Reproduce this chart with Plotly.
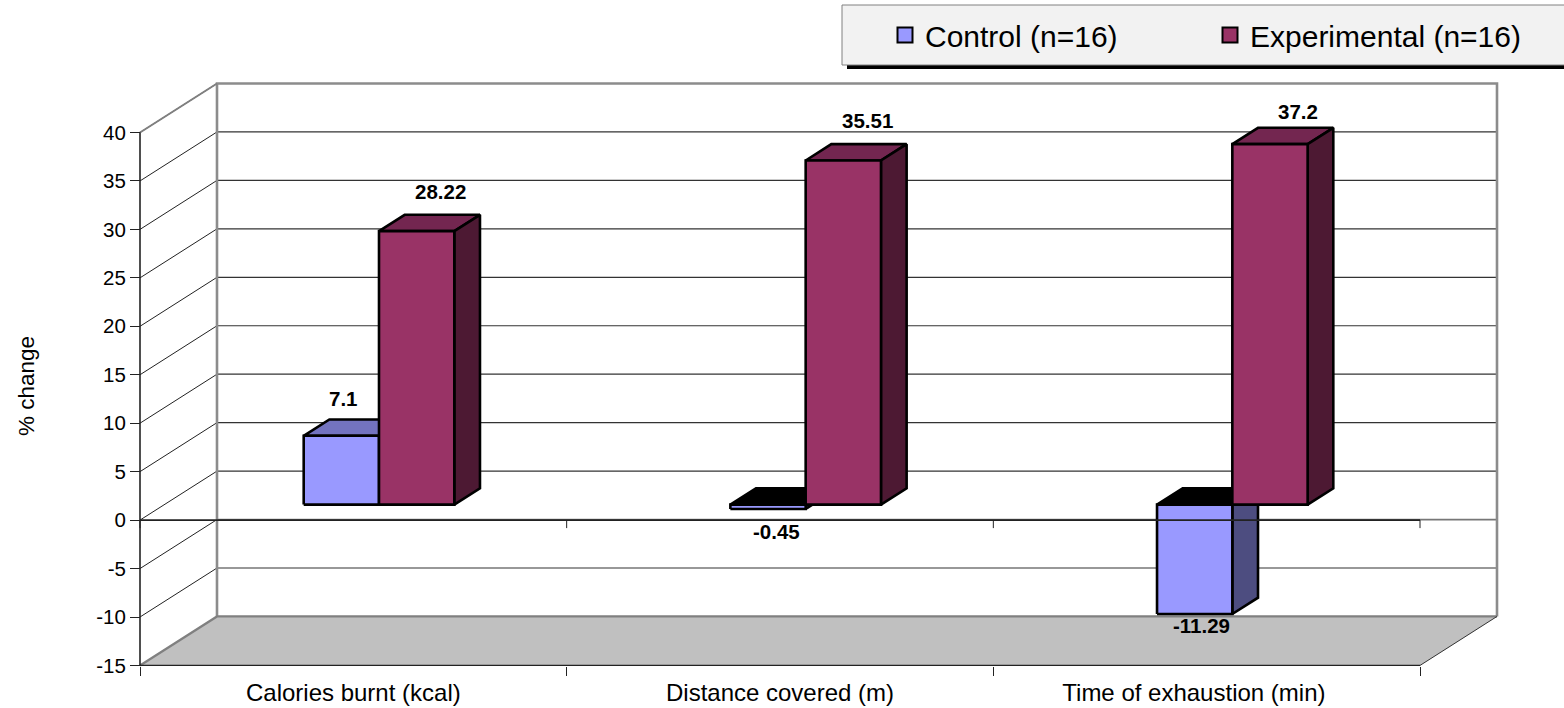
import plotly.graph_objects as go

# Chart data
CATEGORIES = ["Calories burnt (kcal)", "Distance covered (m)", "Time of exhaustion (min)"]
CONTROL = [7.1, -0.45, -11.29]
EXPERIMENTAL = [28.22, 35.51, 37.2]
Y_TICKS = [-15, -10, -5, 0, 5, 10, 15, 20, 25, 30, 35, 40]
SERIES_NAMES = ["Control (n=16)", "Experimental (n=16)"]

# Page and projection geometry
W, H = 1564, 708
CAT_PX = 1280 / 3
VAL_PX = 9.69
X0_PX, Y40_PX = 140, 132.5
DX = 77 / CAT_PX      # full depth of the box, in category units
DY = 49 / VAL_PX      # full depth of the box, in value units
BAR_W = 75.3 / CAT_PX
BAR_LIFT = 15.5 / VAL_PX  # how far the bars' front plane sits above the front axis
Y_MIN, Y_MAX = -15, 40
FONT = "Liberation Sans"

# Face colours: front, top, side
CONTROL_COL = ("#9999ff", "#7373bf", "#4d4d80")
EXPER_COL = ("#993366", "#732650", "#4d1933")

# Pixel nudges of the value labels from each bar's end
CONTROL_NUDGE = [(2, 37), (8, -23), (7, -11)]
EXPER_NUDGE = [(24, 40), (24, 40), (28, 33)]

fig = go.Figure()


def poly(xs, ys, fill, width=2.6, line="#000000"):
    fig.add_trace(go.Scatter(
        x=xs + xs[:1], y=ys + ys[:1], mode="lines", fill="toself", fillcolor=fill,
        line=dict(color=line, width=width), hoverinfo="skip", showlegend=False))


def path(xs, ys, color, width):
    fig.add_trace(go.Scatter(
        x=xs, y=ys, mode="lines", line=dict(color=color, width=width),
        hoverinfo="skip", showlegend=False))


# Floor
poly([0, 3, 3 + DX, DX], [Y_MIN, Y_MIN, Y_MIN + DY, Y_MIN + DY], "#c0c0c0", 0, "rgba(0,0,0,0)")

# Back wall gridlines and the receding lines on the side wall
for v in Y_TICKS:
    if v > Y_MIN:
        path([DX, 3 + DX], [v + DY, v + DY], "#333333" if v != -5 else "#777777", 1.2 if v != -5 else 1.8)
        path([0, DX], [v, v + DY], "#222222", 1)

# Wall and floor frame
path([DX, DX, 3 + DX, 3 + DX], [Y_MIN + DY, Y_MAX + DY, Y_MAX + DY, Y_MIN + DY], "#8c8c8c", 2.6)
path([0, DX, 3 + DX], [Y_MIN, Y_MIN + DY, Y_MIN + DY], "#808080", 2.2)
path([3, 3 + DX], [Y_MIN, Y_MIN + DY], "#333333", 1)
path([0, DX], [Y_MAX, Y_MAX + DY], "#808080", 2)


def bar(left, value, colours):
    """One box standing on the zero plane, a third of the way into the depth."""
    x0 = left + DX / 3
    x1 = x0 + BAR_W
    shift_x, shift_y = DX / 3, DY / 3
    lo, hi = min(value, 0) + BAR_LIFT, max(value, 0) + BAR_LIFT
    top_fill = "#000000" if value < 0 else colours[1]
    poly([x0, x1, x1 + shift_x, x0 + shift_x], [hi, hi, hi + shift_y, hi + shift_y], top_fill)
    poly([x1, x1 + shift_x, x1 + shift_x, x1], [lo, lo + shift_y, hi + shift_y, hi], colours[2])
    poly([x0, x1, x1, x0], [lo, lo, hi, hi], colours[0])
    return x0 + BAR_W / 2, value + BAR_LIFT


annotations = []


def value_label(cx, cy, value, nudge):
    annotations.append(dict(
        x=cx, y=cy, xref="x", yref="y", text=f"<b>{value}</b>", showarrow=False,
        xanchor="center", yanchor="middle", xshift=nudge[0], yshift=nudge[1],
        font=dict(family=FONT, size=20.5, color="#000000")))


for i in range(len(CATEGORIES)):
    centre = i + 0.5
    cx, cy = bar(centre - BAR_W, CONTROL[i], CONTROL_COL)
    value_label(cx, cy, CONTROL[i], CONTROL_NUDGE[i])
    cx, cy = bar(centre, EXPERIMENTAL[i], EXPER_COL)
    value_label(cx, cy, EXPERIMENTAL[i], EXPER_NUDGE[i])

# Front axes, with the zero line running over the bars
path([0, 0], [Y_MIN, Y_MAX], "#222222", 1.6)
path([0, 3], [Y_MIN, Y_MIN], "#222222", 1.2)
path([0, 3], [0, 0], "#222222", 1.8)
tick_drop = 8 / VAL_PX
zero_ticks_x, zero_ticks_y = [], []
for k in range(4):
    zero_ticks_x += [k, k, None]
    zero_ticks_y += [0, -tick_drop, None]
path(zero_ticks_x, zero_ticks_y, "#222222", 1)

# Legend keys
for name, col in zip(SERIES_NAMES, (CONTROL_COL[0], EXPER_COL[0])):
    fig.add_trace(go.Scatter(
        x=[None], y=[None], mode="markers", name=name,
        marker=dict(symbol="square", size=15, color=col, line=dict(color="#000000", width=2))))

# Axis title
annotations.append(dict(
    x=26 / W, y=1 - 386 / H, xref="paper", yref="paper", text="% change", textangle=-90,
    showarrow=False, xanchor="center", yanchor="middle",
    font=dict(family=FONT, size=22.5, color="#000000")))

fig.update_layout(
    width=W, height=H, autosize=False,
    margin=dict(l=0, r=0, t=0, b=0, pad=0),
    paper_bgcolor="#ffffff", plot_bgcolor="#ffffff",
    font=dict(family=FONT, color="#000000"),
    annotations=annotations,
    shapes=[
        dict(type="rect", xref="paper", yref="paper", x0=847 / W, x1=1, y0=1 - 69 / H, y1=1 - 60 / H,
             fillcolor="#000000", line=dict(width=0), layer="below"),
        dict(type="rect", xref="paper", yref="paper", x0=842 / W, x1=1.01, y0=1 - 65 / H, y1=1 - 5 / H,
             fillcolor="#f2f2f2", line=dict(color="#808080", width=1), layer="below"),
    ],
    legend=dict(
        orientation="h", x=885 / W, y=1 - 35 / H, xanchor="left", yanchor="middle",
        bgcolor="rgba(0,0,0,0)", borderwidth=0, entrywidth=280, entrywidthmode="pixels",
        font=dict(family=FONT, size=30, color="#000000")),
    xaxis=dict(
        range=[-X0_PX / CAT_PX, (W - X0_PX) / CAT_PX], domain=[0, 1],
        anchor="free", position=(H - 666) / H,
        tickmode="array", tickvals=[0.5, 1.5, 2.47], ticktext=CATEGORIES,
        ticks="", ticklen=0, ticklabelstandoff=10, showgrid=False, zeroline=False, showline=False,
        tickfont=dict(family=FONT, size=24, color="#000000"),
        minor=dict(tickmode="array", tickvals=[0, 1, 2, 3], ticks="outside", ticklen=9,
                   tickwidth=1, tickcolor="#222222", showgrid=False)),
    yaxis=dict(
        range=[Y_MAX - (H - Y40_PX) / VAL_PX, Y_MAX + Y40_PX / VAL_PX], domain=[0, 1],
        anchor="free", position=X0_PX / W,
        tickmode="array", tickvals=Y_TICKS, ticktext=[str(t) for t in Y_TICKS],
        ticks="outside", ticklen=10, tickwidth=1, tickcolor="#222222",
        showgrid=False, zeroline=False, showline=False,
        tickfont=dict(family=FONT, size=20.5, color="#000000")),
)

fig.write_html("out.html")
